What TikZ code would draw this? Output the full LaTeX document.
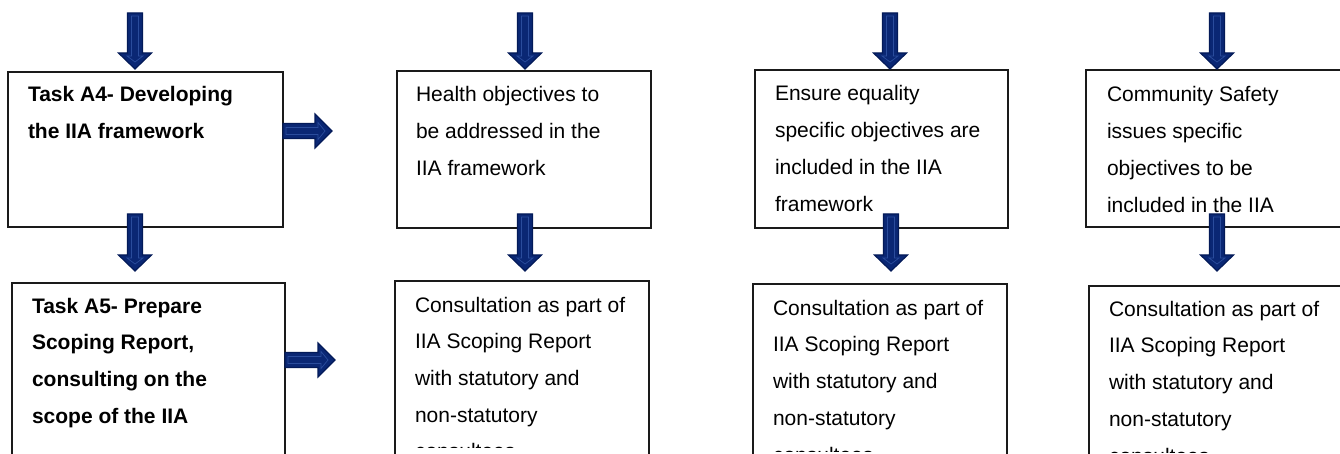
\documentclass[tikz,border=0pt]{standalone}
\usepackage{fontspec}
\setmainfont{Liberation Sans}
\definecolor{navyfill}{HTML}{0A2774}
\definecolor{navyedge}{HTML}{031A58}
\definecolor{navyglint}{HTML}{2A4C9C}
\definecolor{boxline}{HTML}{1A1A1A}

% block arrow pointing down: centre x, top y, y where the head starts, tip y
\newcommand\dnblock[4]{%
  \fill[navyfill,draw=navyedge,line width=1.2pt,line join=miter]
    (#1-7.5,#2) -- (#1+7.5,#2) -- (#1+7.5,#3) -- (#1+16.5,#3) -- (#1,#4)
    -- (#1-16.5,#3) -- (#1-7.5,#3) -- cycle;
  \draw[navyglint,line width=0.7pt]
    (#1-3.5,#2+3) -- (#1+3.5,#2+3) -- (#1+3.5,#3+3) -- (#1+8,#3+3) -- (#1,#4-7)
    -- (#1-8,#3+3) -- (#1-3.5,#3+3) -- cycle;}
% block arrow pointing right: centre y, left x, x where the head starts, tip x
\newcommand\rtblock[4]{%
  \fill[navyfill,draw=navyedge,line width=1.2pt,line join=miter]
    (#2,#1-7.5) -- (#2,#1+7.5) -- (#3,#1+7.5) -- (#3,#1+17) -- (#4,#1)
    -- (#3,#1-17) -- (#3,#1-7.5) -- cycle;
  \draw[navyglint,line width=0.7pt]
    (#2+3,#1-3.5) -- (#2+3,#1+3.5) -- (#3+3,#1+3.5) -- (#3+3,#1+8.5) -- (#4-7,#1)
    -- (#3+3,#1-8.5) -- (#3+3,#1-3.5) -- cycle;}

\tikzset{
  box/.style={draw=boxline,line width=1.2pt,fill=white,anchor=north west,
    inner sep=0pt,outer sep=0pt},
  label/.style={anchor=base west,inner sep=0pt,outer sep=0pt,
    font=\fontsize{21}{36.8}\selectfont},
  boldlabel/.style={label,font=\fontsize{21}{36.8}\selectfont\bfseries},
}
\newcommand\linesof[1]{\parbox[t]{320pt}{\raggedright #1}}

\begin{document}
\begin{tikzpicture}[x=1pt,y=-1pt]
\useasboundingbox (0,0) rectangle (1340,454);
\clip (0,0) rectangle (1340,454);
\fill[white] (0,0) rectangle (1340,454);

% upper row of boxes
\node[box,minimum width=275,minimum height=155] (a4) at (8,72) {};
\node[box,minimum width=254,minimum height=157] (health) at (397,71) {};
\node[box,minimum width=253,minimum height=158] (equal) at (755,70) {};
\node[box,minimum width=274,minimum height=157] (safety) at (1086,70) {};

% lower row of boxes
\node[box,minimum width=273,minimum height=197] (a5) at (12,283) {};
\node[box,minimum width=254,minimum height=199] (consA) at (395,281) {};
\node[box,minimum width=254,minimum height=196] (consB) at (753,284) {};
\node[box,minimum width=271,minimum height=194] (consC) at (1089,286) {};

% box texts
\node[boldlabel] (a4t) at (28,102) {\linesof{Task A4- Developing\\the IIA framework}};
\node[label] (healtht) at (416,102) {\linesof{Health objectives to\\be addressed in the\\IIA framework}};
\node[label] (equalt) at (775,101) {\linesof{Ensure equality\\specific objectives are\\included in the IIA\\framework}};
\node[label] (safetyt) at (1107,102) {\linesof{Community Safety\\issues specific\\objectives to be\\included in the IIA}};

\node[boldlabel] (a5t) at (32,313) {\linesof{Task A5- Prepare\\Scoping Report,\\consulting on the\\scope of the IIA}};
\node[label] (consAt) at (415,312) {\linesof{Consultation as part of\\IIA Scoping Report\\with statutory and\\non-statutory}};
\node[label] (consBt) at (773,315) {\linesof{Consultation as part of\\IIA Scoping Report\\with statutory and\\non-statutory}};
\node[label] (consCt) at (1109,316) {\linesof{Consultation as part of\\IIA Scoping Report\\with statutory and\\non-statutory}};

% last line of each consultation box runs past the page foot
\begin{scope}
  \clip (380,0) rectangle (700,447.5);
  \node[label] (consAe) at (415,458) {consultees};
\end{scope}
\begin{scope}
  \clip (740,0) rectangle (1060,451);
  \node[label] (consBe) at (773,462) {consultees};
\end{scope}
\begin{scope}
  \clip (1080,0) rectangle (1340,452);
  \node[label] (consCe) at (1109,463) {consultees};
\end{scope}

% arrows into the upper row
\dnblock{135}{13}{53}{69}
\dnblock{525}{13}{53}{69}
\dnblock{890}{13}{53}{69}
\dnblock{1217}{13}{53}{69}

% arrows from the upper row to the lower row
\dnblock{135}{214}{255}{271}
\dnblock{525}{214}{255}{271}
\dnblock{891}{214}{255}{271}
\dnblock{1217}{214}{255}{271}

% arrows across from the task boxes
\rtblock{131}{283}{315}{332}
\rtblock{360}{285}{318}{335}
\end{tikzpicture}
\end{document}
